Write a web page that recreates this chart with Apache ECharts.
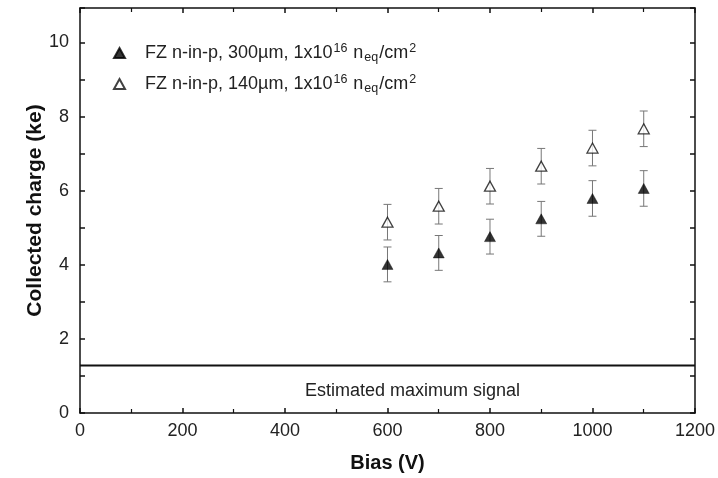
<!DOCTYPE html>
<html>
<head>
<meta charset="utf-8">
<script src="https://cdn.jsdelivr.net/npm/echarts@6/dist/echarts.min.js"></script>
<style>
  html, body { margin: 0; padding: 0; background: #fff; }
  #chart { width: 718px; height: 478px; }
</style>
</head>
<body>
<div id="chart"></div>
<script>
var biasV = [600, 700, 800, 900, 1000, 1100];
var charge300 = [4.01, 4.32, 4.76, 5.24, 5.79, 6.06];
var err300 = [0.47, 0.47, 0.47, 0.47, 0.48, 0.48];
var charge140 = [5.15, 5.58, 6.12, 6.66, 7.15, 7.67];
var err140 = [0.48, 0.48, 0.48, 0.48, 0.48, 0.48];
var maxSignalX = [0, 1200];
var maxSignalY = [1.28, 1.28];

var name300 = 'FZ n-in-p, 300µm';
var name140 = 'FZ n-in-p, 140µm';

function pts(xs, ys) {
  return xs.map(function (x, i) { return [x, ys[i]]; });
}
function bars(xs, ys, es) {
  return xs.map(function (x, i) { return [x, ys[i] - es[i], ys[i] + es[i]]; });
}

// vertical error bar with small caps
function errorBar(params, api) {
  var lo = api.coord([api.value(0), api.value(1)]);
  var hi = api.coord([api.value(0), api.value(2)]);
  var w = 4;
  var st = { stroke: '#777', lineWidth: 1 };
  return {
    type: 'group',
    children: [
      { type: 'line', shape: { x1: lo[0], y1: lo[1], x2: hi[0], y2: hi[1] }, style: st },
      { type: 'line', shape: { x1: lo[0] - w, y1: lo[1], x2: lo[0] + w, y2: lo[1] }, style: st },
      { type: 'line', shape: { x1: hi[0] - w, y1: hi[1], x2: hi[0] + w, y2: hi[1] }, style: st }
    ]
  };
}

var font = 'Liberation Sans, Arial, sans-serif';
var axisBase = {
  axisLine: { show: true, onZero: false, lineStyle: { color: '#111', width: 1.5 } },
  axisTick: { show: true, inside: true, length: 5, lineStyle: { color: '#111', width: 1.5 } },
  splitLine: { show: false }
};
var xMinor = { show: true, splitNumber: 2, length: 4, lineStyle: { color: '#111', width: 1.2 } };

var chart = echarts.init(document.getElementById('chart'));
var option = {
  animation: false,
  backgroundColor: '#fff',
  textStyle: { fontFamily: font },
  grid: { left: 80, right: 22, top: 8, bottom: 61 },
  legend: {
    orient: 'vertical',
    left: 108,
    top: 37,
    itemGap: 9,
    itemWidth: 11,
    itemHeight: 10,
    data: [name300, name140],
    formatter: function (n) {
      return '{a|' + n + ', 1x10}{sup|16}{a| n}{sub|eq}{a|/cm}{sup|2}';
    },
    textStyle: {
      padding: [0, 0, 0, 15],
      rich: {
        a: { fontSize: 18, color: '#222', lineHeight: 22, fontFamily: font },
        sup: { fontSize: 12.5, color: '#222', verticalAlign: 'top', lineHeight: 12, fontFamily: font, padding: [0, 1, 0, 1] },
        sub: { fontSize: 12.5, color: '#222', verticalAlign: 'bottom', lineHeight: 8, fontFamily: font, padding: [0, 1, 0, 1] }
      }
    }
  },
  xAxis: [
    Object.assign({}, axisBase, {
      type: 'value', min: 0, max: 1200, interval: 200, minorTick: xMinor,
      axisLabel: { fontSize: 18, color: '#222', margin: 9, fontFamily: font,
        formatter: function (v) { return String(v); } },
      name: 'Bias (V)', nameLocation: 'middle', nameGap: 40, nameMoveOverlap: false,
      nameTextStyle: { fontSize: 20, fontWeight: 'bold', color: '#111', fontFamily: font }
    }),
    Object.assign({}, axisBase, {
      type: 'value', min: 0, max: 1200, interval: 200, position: 'top', minorTick: xMinor,
      axisLabel: { show: false }
    })
  ],
  yAxis: [
    Object.assign({}, axisBase, {
      type: 'value', min: 0, max: 10.93, interval: 1,
      axisLabel: {
        fontSize: 18, color: '#222', margin: 11, fontFamily: font,
        formatter: function (v) { return (v % 2 === 0) ? String(v) : ''; }
      },
      name: 'Collected charge (ke)', nameLocation: 'middle', nameGap: 34, nameMoveOverlap: false,
      nameTextStyle: { fontSize: 21, fontWeight: 'bold', color: '#111', fontFamily: font }
    }),
    Object.assign({}, axisBase, {
      type: 'value', min: 0, max: 10.93, interval: 1, position: 'right',
      axisLabel: { show: false }
    })
  ],
  graphic: [{
    type: 'text', left: 305, top: 382, z: 10,
    style: { text: 'Estimated maximum signal', fontSize: 18, fill: '#222', fontFamily: font }
  }],
  series: [
    {
      type: 'line', data: pts(maxSignalX, maxSignalY), symbol: 'none',
      lineStyle: { color: '#111', width: 2 }, silent: true, z: 1
    },
    {
      type: 'custom', renderItem: errorBar, data: bars(biasV, charge300, err300), z: 2, silent: true
    },
    {
      type: 'custom', renderItem: errorBar, data: bars(biasV, charge140, err140), z: 2, silent: true
    },
    {
      name: name300, type: 'scatter', data: pts(biasV, charge300), symbol: 'triangle', symbolSize: [11, 10],
      itemStyle: { color: '#000', borderColor: '#000', borderWidth: 0.5 }, z: 5
    },
    {
      name: name140, type: 'scatter', data: pts(biasV, charge140), symbol: 'triangle', symbolSize: [11, 10],
      itemStyle: { color: '#fff', borderColor: '#111', borderWidth: 1.3 }, z: 5
    }
  ]
};
chart.setOption(option);
window.addEventListener('resize', function () { chart.resize(); });
</script>
</body>
</html>
